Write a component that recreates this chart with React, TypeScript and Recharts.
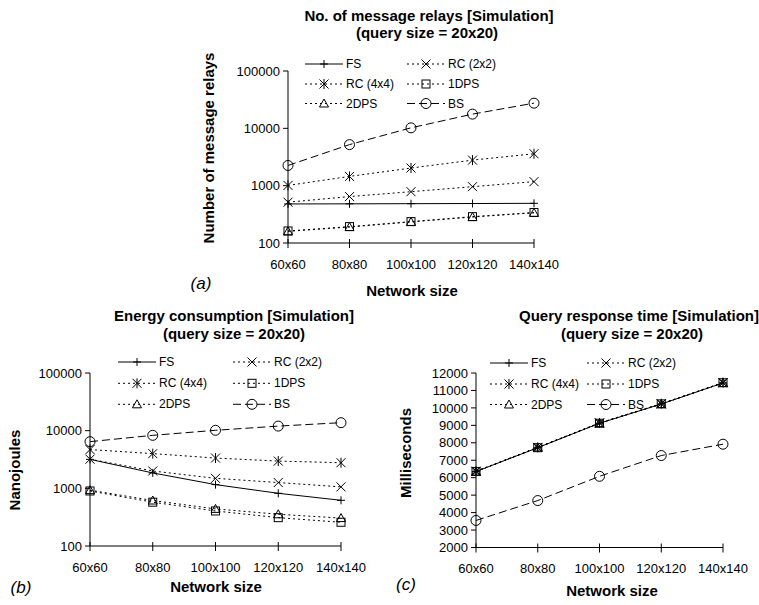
import React from 'react';
import { LineChart, Line, XAxis, YAxis, Legend, Label } from 'recharts';

const FONT = '"Liberation Sans", Arial, Helvetica, sans-serif';

const networkSizes = ['60x60', '80x80', '100x100', '120x120', '140x140'];

// (a) number of message relays
const relaysFS = [480, 482, 485, 488, 492];
const relaysRC2 = [515, 645, 785, 960, 1175];
const relaysRC4 = [1010, 1450, 2030, 2790, 3600];
const relays1DPS = [162, 193, 236, 288, 340];
const relays2DPS = [160, 190, 233, 284, 336];
const relaysBS = [2250, 5200, 10200, 17700, 27500];
const relaysTicks = [100, 1000, 10000, 100000];

// (b) energy consumption (nanojoules)
const energyFS = [3180, 1850, 1160, 820, 620];
const energyRC2 = [3200, 2000, 1490, 1260, 1060];
const energyRC4 = [4700, 4000, 3350, 2970, 2780];
const energy1DPS = [900, 575, 405, 310, 258];
const energy2DPS = [930, 615, 440, 355, 305];
const energyBS = [6450, 8300, 10150, 12000, 13750];
const energyTicks = [100, 1000, 10000, 100000];

// (c) query response time (ms)
const timeFS = [6350, 7720, 9120, 10220, 11430];
const timeRC2 = [6360, 7730, 9130, 10230, 11440];
const timeRC4 = [6370, 7740, 9140, 10240, 11450];
const time1DPS = [6360, 7720, 9120, 10230, 11440];
const time2DPS = [6350, 7730, 9130, 10220, 11430];
const timeBS = [3550, 4690, 6080, 7270, 7920];
const timeTicks = [2000, 3000, 4000, 5000, 6000, 7000, 8000, 9000, 10000, 11000, 12000];

type MarkerType = 'plus' | 'x' | 'star' | 'square' | 'triangle' | 'circle';

const SERIES: { key: string; name: string; dash?: string; marker: MarkerType }[] = [
    { key: 'FS', name: 'FS', marker: 'plus' },
    { key: 'RC2', name: 'RC (2x2)', dash: '2 3', marker: 'x' },
    { key: 'RC4', name: 'RC (4x4)', dash: '2 3', marker: 'star' },
    { key: 'DPS1', name: '1DPS', dash: '2 3', marker: 'square' },
    { key: 'DPS2', name: '2DPS', dash: '2 3', marker: 'triangle' },
    { key: 'BS', name: 'BS', dash: '8 4', marker: 'circle' },
];

const buildRows = (cols: Record<string, number[]>) =>
    networkSizes.map((size, i) => {
        const row: Record<string, string | number> = { size };
        Object.keys(cols).forEach((k) => {
            row[k] = cols[k][i];
        });
        return row;
    });

const relaysData = buildRows({ FS: relaysFS, RC2: relaysRC2, RC4: relaysRC4, DPS1: relays1DPS, DPS2: relays2DPS, BS: relaysBS });
const energyData = buildRows({ FS: energyFS, RC2: energyRC2, RC4: energyRC4, DPS1: energy1DPS, DPS2: energy2DPS, BS: energyBS });
const timeData = buildRows({ FS: timeFS, RC2: timeRC2, RC4: timeRC4, DPS1: time1DPS, DPS2: time2DPS, BS: timeBS });

const markerShape = (type: MarkerType, cx: number, cy: number, key?: string) => {
    const s = 4.5;
    const common = { stroke: '#000', strokeWidth: 1, fill: 'none' };
    switch (type) {
        case 'plus':
            return <path key={key} d={`M${cx - 4},${cy}H${cx + 4}M${cx},${cy - 4}V${cy + 4}`} {...common} />;
        case 'x':
            return <path key={key} d={`M${cx - s},${cy - s}L${cx + s},${cy + s}M${cx - s},${cy + s}L${cx + s},${cy - s}`} {...common} />;
        case 'star':
            return (
                <path
                    key={key}
                    d={`M${cx - s},${cy - s}L${cx + s},${cy + s}M${cx - s},${cy + s}L${cx + s},${cy - s}M${cx},${cy - 5}V${cy + 5}`}
                    {...common}
                />
            );
        case 'square':
            return <rect key={key} x={cx - 4} y={cy - 4} width={8} height={8} {...common} />;
        case 'triangle':
            return <path key={key} d={`M${cx},${cy - 4.5}L${cx + 4.5},${cy + 3.5}L${cx - 4.5},${cy + 3.5}Z`} {...common} />;
        default:
            return <circle key={key} cx={cx} cy={cy} r={5} {...common} />;
    }
};

const makeXTick = (axisY: number) => (props: any) => {
    const { x, payload } = props;
    return (
        <g>
            <line x1={x} x2={x} y1={axisY - 4} y2={axisY + 5} stroke="#000" />
            <text x={x} y={axisY + 21} textAnchor="middle" dominantBaseline="central" fontSize={13} fill="#000">
                {payload.value}
            </text>
        </g>
    );
};

interface PanelProps {
    left: number;
    top: number;
    width: number;
    height: number;
    margin: { top: number; right: number; bottom: number; left: number };
    yWidth: number;
    data: Record<string, string | number>[];
    log: boolean;
    domain: [number, number];
    ticks: number[];
    xTitle: { x: number; y: number };
    yTitle: { text: string; x: number; y: number };
    legendCols: [number, number];
    legendRows: [number, number, number];
}

const Panel: React.FC<PanelProps> = (p) => {
    const axisY = p.height - p.margin.bottom - 30;
    const legendContent = () => (
        <svg width={p.width} height={p.height} style={{ position: 'absolute', left: 0, top: 0, overflow: 'visible' }}>
            {SERIES.map((s, i) => {
                const x = p.legendCols[i % 2];
                const y = p.legendRows[Math.floor(i / 2)];
                return (
                    <g key={s.key}>
                        <line x1={x} x2={x + 38} y1={y} y2={y} stroke="#000" strokeDasharray={s.dash} />
                        {markerShape(s.marker, x + 19, y)}
                        <text x={x + 41} y={y} dominantBaseline="central" fontSize={12} fill="#000" fontFamily={FONT}>
                            {s.name}
                        </text>
                    </g>
                );
            })}
        </svg>
    );

    return (
        <div style={{ position: 'absolute', left: p.left, top: p.top }}>
            <LineChart width={p.width} height={p.height} data={p.data} margin={p.margin}>
                <XAxis
                    dataKey="size"
                    height={30}
                    stroke="#000"
                    tickLine={false}
                    tickSize={5}
                    tickMargin={8}
                    interval={0}
                    tick={makeXTick(axisY)}
                >
                    <Label
                        content={() => (
                            <text x={p.xTitle.x} y={p.xTitle.y} textAnchor="middle" dominantBaseline="central" fontSize={15} fontWeight="bold" fill="#000">
                                Network size
                            </text>
                        )}
                    />
                </XAxis>
                <YAxis
                    width={p.yWidth}
                    type="number"
                    scale={p.log ? 'log' : 'linear'}
                    domain={p.domain}
                    ticks={p.ticks}
                    interval={0}
                    allowDataOverflow
                    stroke="#000"
                    tickSize={5}
                    tickMargin={3}
                    tick={{ fontSize: 13, fill: '#000' }}
                >
                    <Label
                        content={() => (
                            <text
                                x={p.yTitle.x}
                                y={p.yTitle.y}
                                transform={`rotate(-90 ${p.yTitle.x} ${p.yTitle.y})`}
                                textAnchor="middle"
                                dominantBaseline="central"
                                fontSize={15}
                                fontWeight="bold"
                                fill="#000"
                            >
                                {p.yTitle.text}
                            </text>
                        )}
                    />
                </YAxis>
                <Legend
                    layout="horizontal"
                    verticalAlign="middle"
                    align="center"
                    wrapperStyle={{ left: 0, top: 0, width: p.width, height: p.height, pointerEvents: 'none' }}
                    content={legendContent}
                />
                {SERIES.map((s) => (
                    <Line
                        key={s.key}
                        dataKey={s.key}
                        name={s.name}
                        type="linear"
                        stroke="#000"
                        strokeWidth={1}
                        strokeDasharray={s.dash}
                        isAnimationActive={false}
                        dot={(d: any) => markerShape(s.marker, d.cx, d.cy, `${s.key}-${d.index}`)}
                        activeDot={false}
                    />
                ))}
            </LineChart>
        </div>
    );
};

const titles = [
    { x: 429, y: 15, text: 'No. of message relays [Simulation]' },
    { x: 427, y: 32, text: '(query size = 20x20)' },
    { x: 234, y: 315, text: 'Energy consumption [Simulation]' },
    { x: 234, y: 333, text: '(query size = 20x20)' },
    { x: 639, y: 315, text: 'Query response time [Simulation]' },
    { x: 632, y: 333, text: '(query size = 20x20)' },
];

const panelLetters = [
    { x: 201, y: 283, text: '(a)' },
    { x: 21, y: 587, text: '(b)' },
    { x: 406, y: 584, text: '(c)' },
];

export default function App() {
    return (
        <div style={{ position: 'absolute', left: 0, top: 0, width: 759, height: 605, background: '#fff', fontFamily: FONT }}>
            <Panel
                left={180}
                top={0}
                width={400}
                height={300}
                margin={{ top: 71, right: 46, bottom: 27, left: 0 }}
                yWidth={108}
                data={relaysData}
                log
                domain={[100, 100000]}
                ticks={relaysTicks}
                xTitle={{ x: 232, y: 290 }}
                yTitle={{ text: 'Number of message relays', x: 28, y: 148 }}
                legendCols={[125, 227]}
                legendRows={[64, 84, 103.5]}
            />
            <Panel
                left={0}
                top={300}
                width={380}
                height={305}
                margin={{ top: 73, right: 39, bottom: 29, left: 0 }}
                yWidth={90}
                data={energyData}
                log
                domain={[100, 100000]}
                ticks={energyTicks}
                xTitle={{ x: 216, y: 286 }}
                yTitle={{ text: 'Nanojoules', x: 14, y: 170 }}
                legendCols={[118, 233]}
                legendRows={[62, 83.3, 104.3]}
            />
            <Panel
                left={380}
                top={300}
                width={379}
                height={305}
                margin={{ top: 73, right: 36, bottom: 27.5, left: 0 }}
                yWidth={96}
                data={timeData}
                log={false}
                domain={[2000, 12000]}
                ticks={timeTicks}
                xTitle={{ x: 232, y: 290 }}
                yTitle={{ text: 'Milliseconds', x: 25, y: 153 }}
                legendCols={[110, 207]}
                legendRows={[63, 84, 104.5]}
            />
            <svg width={759} height={605} style={{ position: 'absolute', left: 0, top: 0, pointerEvents: 'none' }}>
                {titles.map((t, i) => (
                    <text key={i} x={t.x} y={t.y} textAnchor="middle" dominantBaseline="central" fontSize={15} fontWeight="bold" fill="#000" fontFamily={FONT}>
                        {t.text}
                    </text>
                ))}
                {panelLetters.map((t) => (
                    <text key={t.text} x={t.x} y={t.y} textAnchor="middle" dominantBaseline="central" fontSize={17} fontStyle="italic" fill="#000" fontFamily={FONT}>
                        {t.text}
                    </text>
                ))}
            </svg>
        </div>
    );
}
